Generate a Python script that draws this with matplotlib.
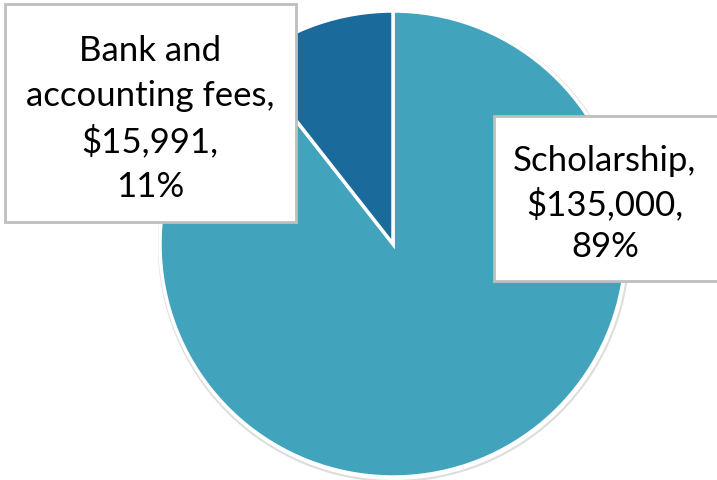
import matplotlib.pyplot as plt
from matplotlib.patches import Rectangle, Circle

# Data
categories = ['Scholarship', 'Bank and accounting fees']
amounts = [135000, 15991]
colors = ['#41A3BC', '#1B6A9C']

W, H = 717, 481
fig = plt.figure(figsize=(W / 100, H / 100), dpi=100)
ax = fig.add_axes([0, 0, 1, 1])

cx, cy, r = 393, H - 245, 233

# faint shadow ring around the pie
ax.add_patch(Circle((cx + 1, cy - 2), r + 2, facecolor='none', edgecolor='#DDDDDD', lw=1.5, zorder=0))

ax.pie(amounts, colors=colors, startangle=90, counterclock=False,
       center=(cx, cy), radius=r,
       wedgeprops=dict(edgecolor='white', linewidth=2.5))

ax.set_xlim(0, W)
ax.set_ylim(0, H)
ax.set_aspect('auto')
ax.axis('off')

total = sum(amounts)
labels = []
for name, val in zip(categories, amounts):
    labels.append((name, val, round(val / total * 100)))

font = dict(family='Lato', fontsize=25, color='black', ha='center', va='center', zorder=5)

# label box for bank fees (top left)
ax.add_patch(Rectangle((5, H - 223), 291, 218, facecolor='white', edgecolor='#BFBFBF', lw=2, zorder=4))
name, val, pct = labels[1]
ax.text(150, H - 119, 'Bank and\naccounting fees,\n${:,},\n{}%'.format(val, pct),
        linespacing=1.47, **font)

# label box for scholarship (right)
ax.add_patch(Rectangle((494, H - 282), 230, 165, facecolor='white', edgecolor='#BFBFBF', lw=2, zorder=4))
name, val, pct = labels[0]
ax.text(605, H - 204, '{},\n${:,},\n{}%'.format(name, val, pct),
        linespacing=1.38, **font)

fig.savefig('out.png', dpi=100)
